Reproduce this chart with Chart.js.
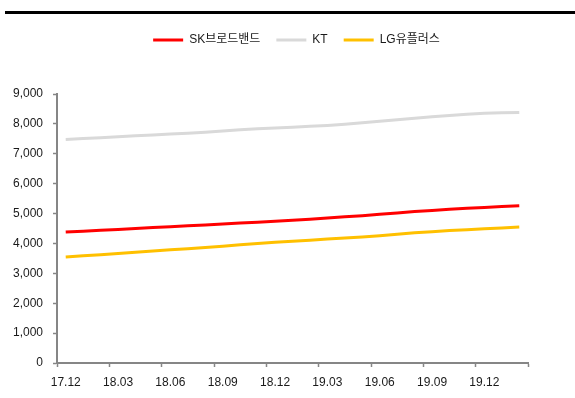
<!DOCTYPE html>
<html>
<head>
<meta charset="utf-8">
<script src="https://cdn.jsdelivr.net/npm/chart.js@4.4.1/dist/chart.umd.min.js"></script>
<style>
  html, body { margin: 0; padding: 0; background: #fff; }
  #wrap { position: relative; width: 575px; height: 398px; overflow: hidden; }
  #rule { position: absolute; left: 5px; right: 0; top: 11px; height: 3px; background: #000; }
  #c { position: absolute; left: 0; top: 0; }
</style>
</head>
<body>
<div id="wrap">
  <div id="rule"></div>
  <canvas id="c" width="575" height="398"></canvas>
</div>
<script>
// Monthly subscriber counts (thousands), Dec 2017 – Feb 2020
const months = [
  '17.12', '18.01', '18.02', '18.03', '18.04', '18.05', '18.06', '18.07', '18.08',
  '18.09', '18.10', '18.11', '18.12', '19.01', '19.02', '19.03', '19.04', '19.05',
  '19.06', '19.07', '19.08', '19.09', '19.10', '19.11', '19.12', '20.01', '20.02'
];
const seriesNames = ['SK브로드밴드', 'KT', 'LG유플러스'];
const skBroadband = [
  4380, 4410, 4440, 4470, 4500, 4530, 4560, 4590, 4620, 4650, 4680, 4710, 4740, 4775,
  4810, 4850, 4890, 4930, 4975, 5020, 5065, 5105, 5140, 5175, 5205, 5235, 5260
];
const kt = [
  7480, 7510, 7540, 7570, 7600, 7630, 7660, 7690, 7720, 7760, 7800, 7840, 7860, 7890,
  7920, 7950, 7990, 8040, 8090, 8140, 8190, 8240, 8280, 8320, 8355, 8370, 8385
];
const lgUplus = [
  3545, 3585, 3625, 3665, 3705, 3745, 3785, 3825, 3865, 3910, 3955, 4000, 4040, 4075,
  4110, 4145, 4180, 4215, 4260, 4310, 4360, 4395, 4430, 4460, 4490, 4520, 4548
];
const yTicks = [0, 1000, 2000, 3000, 4000, 5000, 6000, 7000, 8000, 9000];
const labelEvery = 3;

const colors = ['#FF0000', '#D9D9D9', '#FFC000'];
const axisColor = '#868686';
const textColor = '#1a1a1a';
const fontFamily = "'Liberation Sans', 'Noto Sans CJK KR', Arial, sans-serif";

// Legend sizing: keep plot area top fixed and nudge legend horizontally
const PLOT_TOP = 94;
const PAD_TOP = 18;
const LEGEND_SHIFT = 4;
const legendSpacer = {
  id: 'legendSpacer',
  beforeLayout(chart) {
    const lg = chart.legend;
    if (lg && !lg._spaced) {
      const fit = lg.fit;
      lg.fit = function () { fit.call(this); this.height = PLOT_TOP - PAD_TOP; };
      lg._spaced = true;
    }
  },
  afterLayout(chart) {
    const lg = chart.legend;
    if (lg) { lg.left += LEGEND_SHIFT; lg.right += LEGEND_SHIFT; }
  }
};

const mkSet = (i, data) => ({
  label: seriesNames[i],
  data: data,
  borderColor: colors[i],
  backgroundColor: colors[i],
  borderWidth: 3,
  pointRadius: 0,
  pointHoverRadius: 0,
  tension: 0,
  fill: false
});

new Chart(document.getElementById('c'), {
  type: 'line',
  data: {
    labels: months,
    datasets: [mkSet(0, skBroadband), mkSet(1, kt), mkSet(2, lgUplus)]
  },
  plugins: [legendSpacer],
  options: {
    responsive: false,
    animation: false,
    devicePixelRatio: 1,
    layout: { padding: { top: PAD_TOP, left: 0, right: 47, bottom: 0 } },
    plugins: {
      legend: {
        position: 'top',
        fullSize: false,
        labels: {
          boxWidth: 30,
          boxHeight: 3,
          padding: 16,
          color: textColor,
          font: { family: fontFamily, size: 12 },
          generateLabels(chart) {
            return Chart.defaults.plugins.legend.labels.generateLabels(chart)
              .map(l => Object.assign(l, { lineWidth: 0 }));
          }
        }
      },
      tooltip: { enabled: false },
      title: { display: false }
    },
    scales: {
      x: {
        type: 'category',
        offset: true,
        afterFit(scale) { scale.height = 35; },
        grid: {
          offset: true,
          drawOnChartArea: false,
          drawTicks: true,
          tickLength: 4,
          tickWidth: 1.5,
          tickColor: (ctx) => (ctx.index === undefined || ctx.index % labelEvery === 0) ? axisColor : 'rgba(0,0,0,0)'
        },
        border: { display: true, color: axisColor, width: 2 },
        ticks: {
          autoSkip: false,
          maxRotation: 0,
          minRotation: 0,
          padding: 8,
          color: textColor,
          font: { family: fontFamily, size: 12 },
          callback: (v, i) => (i % labelEvery === 0 ? months[i] : '')
        }
      },
      y: {
        min: yTicks[0],
        max: yTicks[yTicks.length - 1],
        afterFit(scale) { scale.width = 57; },
        afterBuildTicks(scale) { scale.ticks = yTicks.map(v => ({ value: v })); },
        grid: {
          drawOnChartArea: false,
          drawTicks: true,
          tickLength: 4,
          tickWidth: 1.5,
          tickColor: axisColor
        },
        border: { display: true, color: axisColor, width: 2 },
        ticks: {
          padding: 10,
          color: textColor,
          font: { family: fontFamily, size: 12 },
          callback: (v) => Number(v).toLocaleString('en-US')
        }
      }
    }
  }
});
</script>
</body>
</html>
